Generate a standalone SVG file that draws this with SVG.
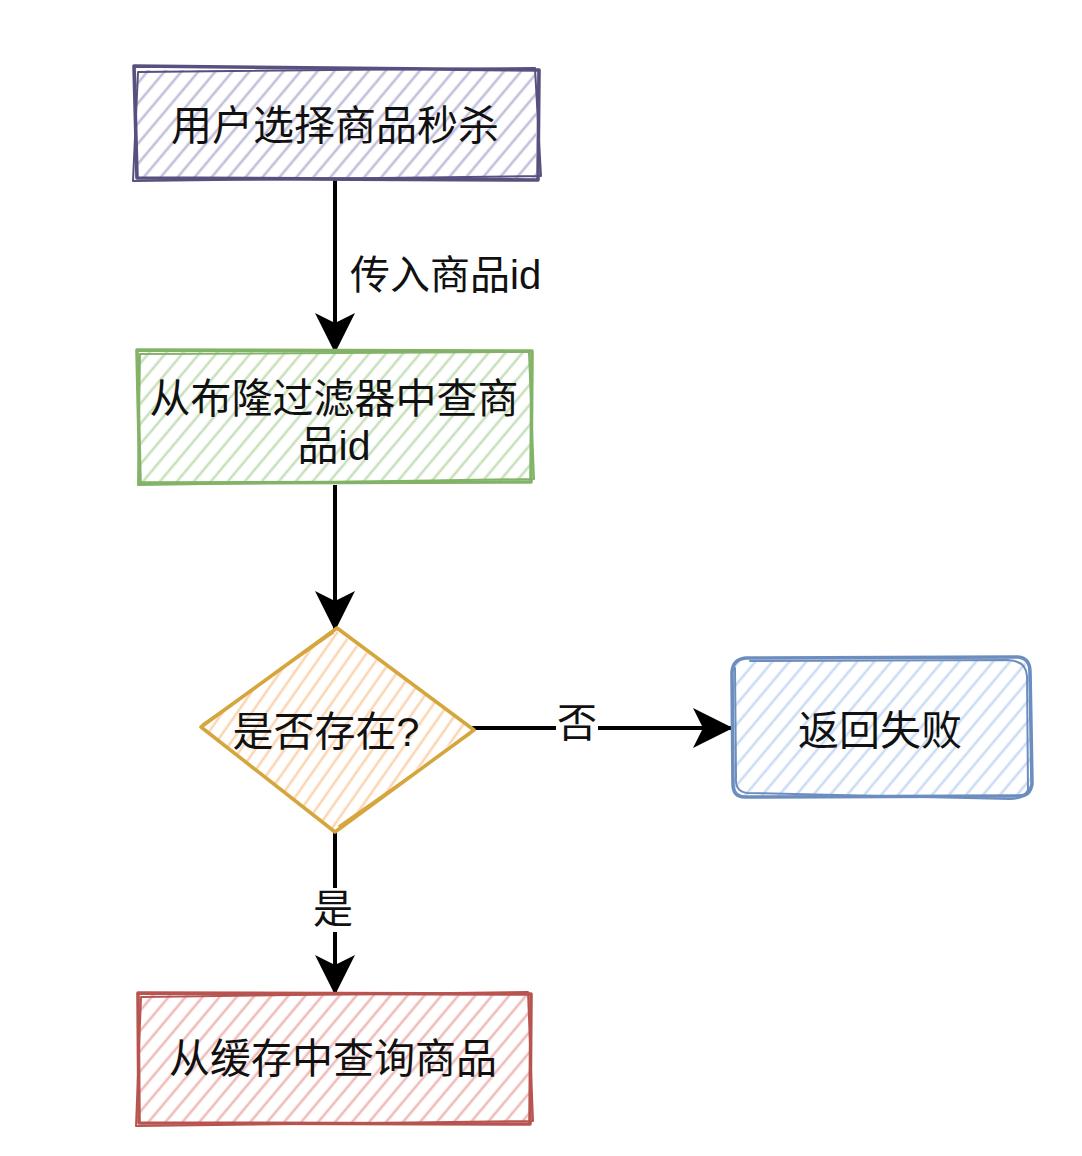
<svg xmlns="http://www.w3.org/2000/svg" width="1082" height="1156" viewBox="0 0 1082 1156">
<style>
.t{font-family:"Liberation Sans","Noto Sans CJK SC",sans-serif;font-size:41px;fill:#111;text-anchor:middle}
.lb{font-family:"Liberation Sans","Noto Sans CJK SC",sans-serif;font-size:40px;fill:#111}
.e{stroke:#000;stroke-width:4;fill:none}
.sk{fill:none;stroke-width:3.6;stroke-linejoin:round;stroke-linecap:round}
.sk2{fill:none;stroke-width:2;stroke-linejoin:round;stroke-linecap:round}
</style>
<defs>
<pattern id="hP" width="13" height="13" patternUnits="userSpaceOnUse" patternTransform="rotate(40)"><line x1="3" y1="0" x2="3" y2="13" stroke="#c2c0da" stroke-width="2.6"/></pattern>
<pattern id="hG" width="13" height="13" patternUnits="userSpaceOnUse" patternTransform="rotate(40)"><line x1="3" y1="0" x2="3" y2="13" stroke="#c9e0bc" stroke-width="2.6"/></pattern>
<pattern id="hO" width="12" height="12" patternUnits="userSpaceOnUse" patternTransform="rotate(35)"><line x1="3" y1="0" x2="3" y2="12" stroke="#fbd6b4" stroke-width="2.6"/></pattern>
<pattern id="hB" width="13" height="13" patternUnits="userSpaceOnUse" patternTransform="rotate(40)"><line x1="3" y1="0" x2="3" y2="13" stroke="#cbdcf3" stroke-width="2.6"/></pattern>
<pattern id="hR" width="13" height="13" patternUnits="userSpaceOnUse" patternTransform="rotate(40)"><line x1="3" y1="0" x2="3" y2="13" stroke="#efbcba" stroke-width="2.6"/></pattern>
<marker id="arr" viewBox="0 0 20 20" refX="19" refY="10" markerWidth="10" markerHeight="10" markerUnits="strokeWidth" orient="auto"><path d="M0,0 L20,10 L0,20 L5,10 Z" fill="#000"/></marker>
</defs>

<g id="connectors">
<path class="e" d="M335,180 L335,351" marker-end="url(#arr)"/>
<path class="e" d="M335,485 L335,629" marker-end="url(#arr)"/>
<path class="e" d="M472,728 L731,728" marker-end="url(#arr)"/>
<path class="e" d="M335,830 L335,993" marker-end="url(#arr)"/>
<text class="lb" x="350" y="289">传入商品id</text>
<rect x="556" y="702" width="42" height="44" fill="#fff"/>
<text class="lb" x="557" y="737">否</text>
<rect x="312" y="888" width="44" height="44" fill="#fff"/>
<text class="lb" x="313" y="923">是</text>
</g>

<g id="node-select">
<rect x="136" y="70" width="400" height="108" fill="url(#hP)"/>
<path class="sk" stroke="#56517e" d="M134,66 L539,70 L538,180 L137,178 Z"/>
<path class="sk2" stroke="#56517e" d="M138,72 L535,68 L541,176 L133,181 Z"/>
<text class="t" x="335" y="140">用户选择商品秒杀</text>
</g>

<g id="node-bloom">
<rect x="138" y="352" width="394" height="130" fill="url(#hG)"/>
<path class="sk" stroke="#82b366" d="M137,350 L532,351 L531,482 L140,483 Z"/>
<path class="sk2" stroke="#82b366" d="M140,354 L529,352 L534,479 L138,485 Z"/>
<text class="t" x="334" y="413">从布隆过滤器中查商</text>
<text class="t" x="334" y="460">品id</text>
</g>

<g id="node-exists">
<path d="M335,630 L472,728 L335,830 L202,728 Z" fill="url(#hO)"/>
<path class="sk" stroke="#d6a63e" d="M337,628 L474,730 L335,832 L201,727 Z"/>
<path class="sk2" stroke="#d6a63e" d="M333,633 L203,724 M470,734 L339,826"/>
<text class="t" x="326" y="746">是否存在?</text>
</g>

<g id="node-fail">
<rect x="732" y="660" width="298" height="136" rx="14" fill="url(#hB)"/>
<path class="sk" stroke="#6c8ebf" d="M746,658 L1018,657 Q1030,658 1030,672 L1032,784 Q1030,797 1017,796 L745,797 Q733,797 733,784 L732,672 Q733,659 746,658 Z"/>
<path class="sk2" stroke="#6c8ebf" d="M750,661 L1008,660 Q1026,661 1027,676 L1028,790 Q1024,799 1010,799 L748,793 Q735,792 736,778 L735,668"/>
<text class="t" x="880" y="745">返回失败</text>
</g>

<g id="node-cache">
<rect x="139" y="995" width="390" height="128" fill="url(#hR)"/>
<path class="sk" stroke="#b85450" d="M138,993 L531,994 L530,1124 L139,1123 Z"/>
<path class="sk2" stroke="#b85450" d="M141,997 L528,992 L533,1121 L136,1126 Z"/>
<text class="t" x="333" y="1073">从缓存中查询商品</text>
</g>
</svg>
